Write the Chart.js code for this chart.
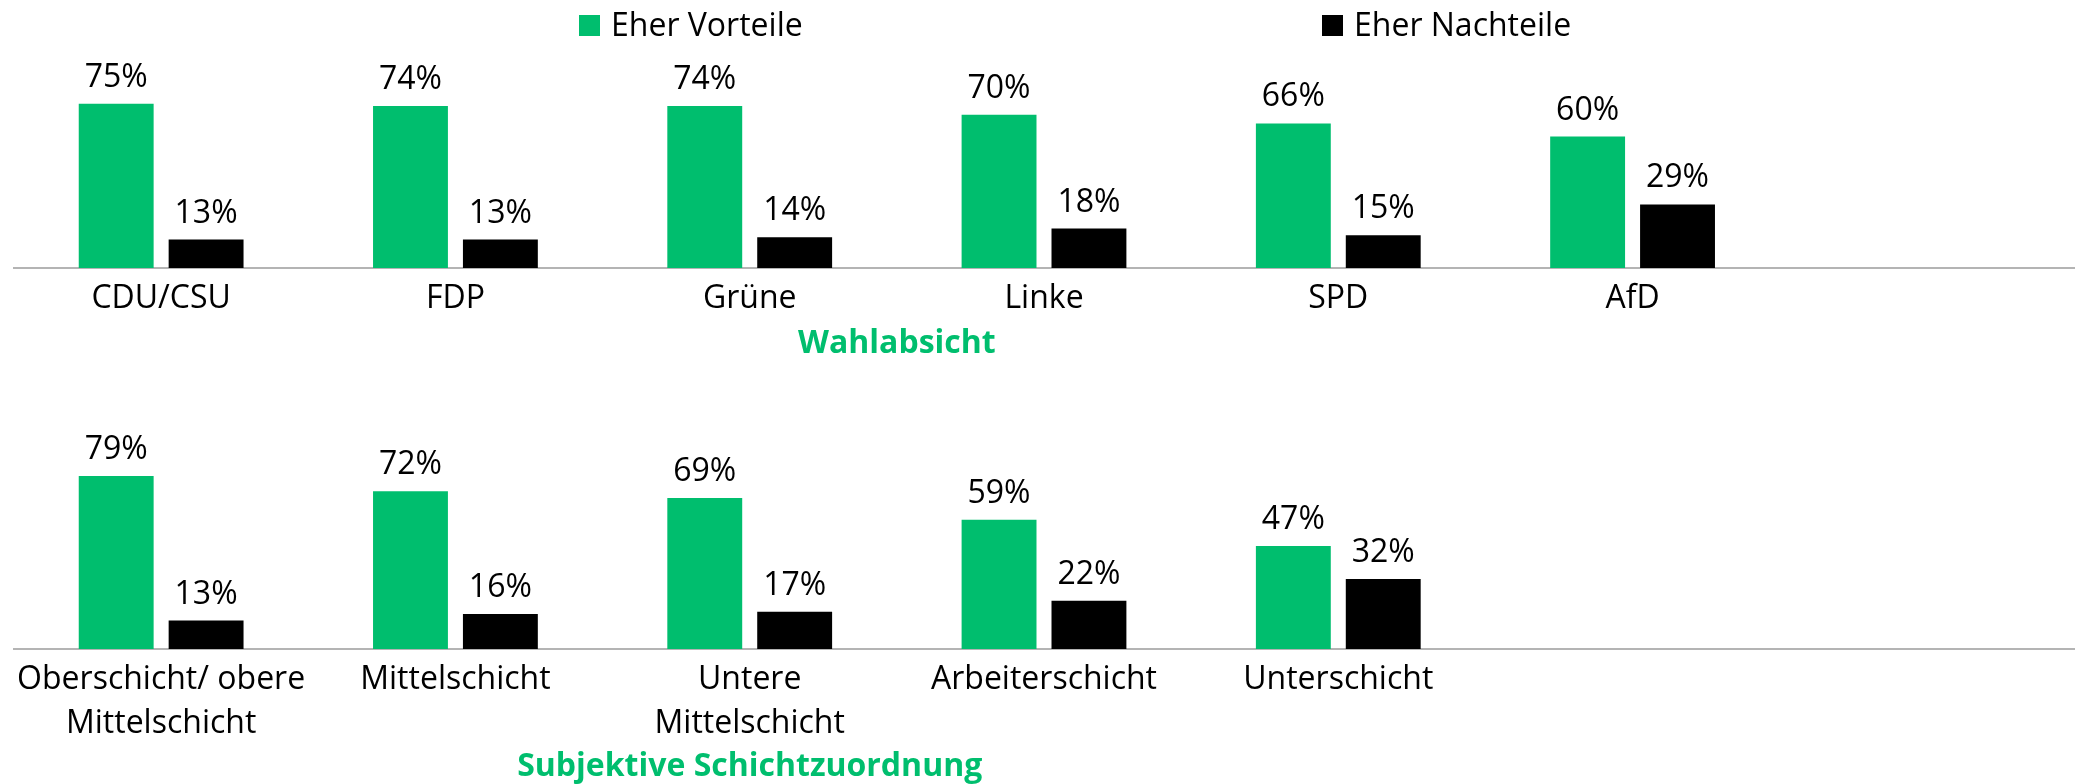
<!DOCTYPE html>
<html lang="de">
<head>
<meta charset="utf-8">
<script src="https://cdn.jsdelivr.net/npm/chart.js@4.4.0/dist/chart.umd.min.js"></script>
<style>
  html, body { margin: 0; padding: 0; background: #fff; }
  body { width: 2077px; height: 784px; position: relative; overflow: hidden; font-family: 'Open Sans', sans-serif; }
  .box { position: absolute; left: 0; width: 2077px; height: 392px; }
  #boxTop { top: 0; }
  #boxBottom { top: 392px; }
  .legend { position: absolute; top: 8px; font-size: 32px; line-height: 32px; color: #000; white-space: nowrap; padding-left: 32px; }
  .legend i { position: absolute; left: 0; top: 7px; width: 21px; height: 21px; }
</style>
</head>
<body>
<div class="box" id="boxTop"><canvas id="chartParteien" width="2077" height="392"></canvas></div>
<div class="box" id="boxBottom"><canvas id="chartSchicht" width="2077" height="392"></canvas></div>
<div class="legend" style="left:579px"><i style="background:#00BE6E"></i>Eher Vorteile</div>
<div class="legend" style="left:1322px"><i style="background:#000"></i>Eher Nachteile</div>
<script>
// Daten
const SERIES = ['Eher Vorteile', 'Eher Nachteile'];

const parteien = ['CDU/CSU', 'FDP', 'Grüne', 'Linke', 'SPD', 'AfD', ''];
const parteienVorteile = [75, 74, 74, 70, 66, 60, null];
const parteienNachteile = [13, 13, 14, 18, 15, 29, null];

const schichten = [['Oberschicht/ obere', 'Mittelschicht'], 'Mittelschicht', ['Untere', 'Mittelschicht'], 'Arbeiterschicht', 'Unterschicht', '', ''];
const schichtVorteile = [79, 72, 69, 59, 47, null, null];
const schichtNachteile = [13, 16, 17, 22, 32, null, null];

const GREEN = '#00BE6E';
const FONT = "'Open Sans', sans-serif";

// Prozentwerte über den Balken
const valueLabels = {
  id: 'valueLabels',
  afterDatasetsDraw(chart) {
    const ctx = chart.ctx;
    ctx.save();
    ctx.font = '32px ' + FONT;
    ctx.fillStyle = '#000';
    ctx.textAlign = 'center';
    ctx.textBaseline = 'alphabetic';
    chart.data.datasets.forEach((ds, i) => {
      chart.getDatasetMeta(i).data.forEach((bar, j) => {
        const v = ds.data[j];
        if (v == null) return;
        ctx.fillText(v + '%', bar.x, bar.y - 17);
      });
    });
    ctx.restore();
  }
};

// Achsentitel, zentriert über den belegten Kategorien
const axisTitle = {
  id: 'axisTitle',
  afterDraw(chart, args, opts) {
    const x = chart.scales.x;
    const cx = (x.getPixelForValue(0) + x.getPixelForValue(opts.count - 1)) / 2;
    const ctx = chart.ctx;
    ctx.save();
    ctx.font = 'bold 32px ' + FONT;
    ctx.fillStyle = GREEN;
    ctx.textAlign = 'center';
    ctx.textBaseline = 'alphabetic';
    ctx.fillText(opts.text, cx, opts.y);
    ctx.restore();
  }
};

function groupChart(id, labels, vorteile, nachteile, title, count, cfg) {
  return new Chart(document.getElementById(id), {
    type: 'bar',
    data: {
      labels,
      datasets: [
        { label: SERIES[0], data: vorteile, backgroundColor: GREEN },
        { label: SERIES[1], data: nachteile, backgroundColor: '#000' }
      ]
    },
    options: {
      responsive: false,
      animation: false,
      layout: { padding: { top: cfg.top, left: 14, right: 3, bottom: 0 } },
      datasets: { bar: { categoryPercentage: 0.611, barPercentage: 0.833 } },
      plugins: {
        legend: { display: false },
        tooltip: { enabled: false },
        axisTitle: { text: title, count, y: cfg.titleY }
      },
      scales: {
        x: {
          grid: { display: false, drawTicks: false },
          border: { display: true, color: '#b4b4b4', width: 2 },
          ticks: {
            color: '#000',
            font: { family: FONT, size: 32, lineHeight: 1.4 },
            padding: 8,
            maxRotation: 0,
            autoSkip: false
          },
          afterFit: s => { s.height = cfg.axisH; }
        },
        y: { display: false, min: 0, max: 100 }
      }
    },
    plugins: [valueLabels, axisTitle]
  });
}

groupChart('chartParteien', parteien, parteienVorteile, parteienNachteile, 'Wahlabsicht', 6,
  { top: 49, axisH: 124, titleY: 353 });
groupChart('chartSchicht', schichten, schichtVorteile, schichtNachteile, 'Subjektive Schichtzuordnung', 5,
  { top: 38, axisH: 135, titleY: 384 });
</script>
</body>
</html>
